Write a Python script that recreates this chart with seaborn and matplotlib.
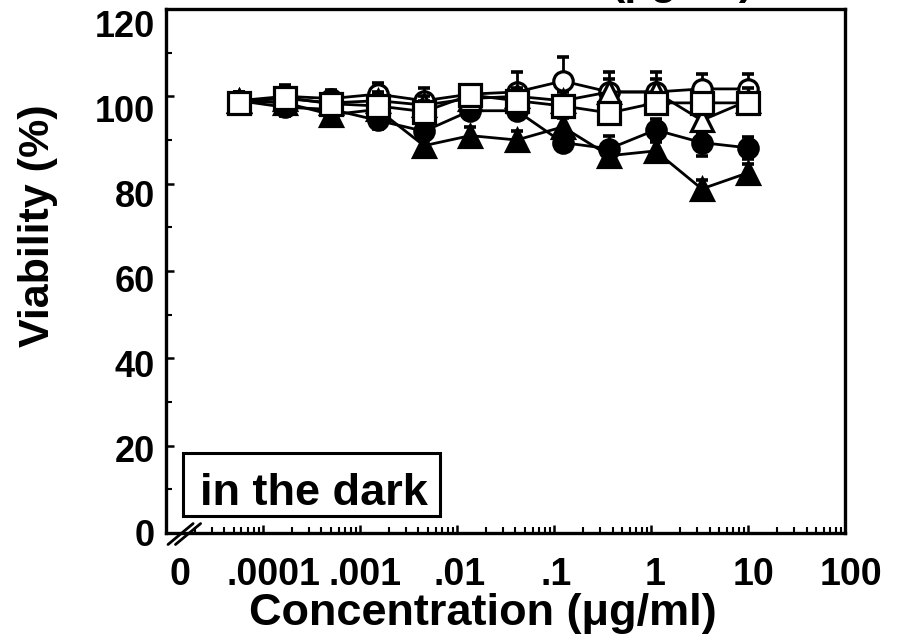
import numpy as np
import pandas as pd
import matplotlib
matplotlib.use("Agg")
import matplotlib.pyplot as plt
import matplotlib.transforms as mtransforms
from matplotlib.patches import Rectangle
import seaborn as sns
from matplotlib.ticker import LogLocator, FixedLocator, FixedFormatter, NullFormatter

# three-fold dilution series (ug/ml)
conc = [5.6e-5, 1.69e-4, 5.08e-4, 1.52e-3, 4.57e-3, 1.37e-2,
        4.12e-2, 0.123, 0.37, 1.11, 3.33, 10.0]

open_circle = [99.0, 100.0, 99.5, 100.5, 99.0, 100.5, 101.0, 103.5, 101.0, 101.0, 101.7, 101.7]
open_circle_err = [2.0, 2.0, 2.0, 2.5, 3.0, 2.0, 4.5, 5.5, 4.5, 4.5, 3.5, 3.5]

filled_circle = [99.0, 97.5, 97.0, 94.5, 92.0, 96.7, 96.7, 89.4, 88.0, 92.3, 89.4, 88.2]
filled_circle_err = [2.0, 2.0, 2.0, 2.0, 2.0, 2.0, 2.0, 2.0, 3.0, 2.5, 3.0, 2.5]

open_triangle = [99.0, 99.5, 98.5, 99.0, 98.0, 99.5, 100.0, 99.0, 101.0, 101.0, 94.5, 99.0]
open_triangle_err = [2.0, 2.0, 2.0, 2.0, 2.0, 2.0, 2.0, 2.0, 3.0, 3.0, 3.0, 3.0]

filled_triangle = [99.0, 98.5, 95.8, 97.0, 88.7, 91.0, 90.0, 93.0, 86.4, 87.5, 78.8, 82.5]
filled_triangle_err = [2.0, 2.0, 2.0, 2.0, 2.0, 2.0, 2.0, 2.0, 2.0, 2.0, 2.0, 2.0]

open_square = [98.5, 99.7, 98.3, 97.8, 96.5, 100.3, 99.0, 97.8, 96.2, 98.5, 98.5, 98.5]
open_square_err = [2.5, 3.0, 3.0, 3.0, 2.5, 2.0, 2.0, 2.0, 2.0, 2.0, 2.0, 2.0]

x_tick_pos = [1.4e-5, 1e-4, 1e-3, 1e-2, 1e-1, 1, 10, 100]
x_tick_labels = ["0", ".0001", ".001", ".01", ".1", "1", "10", "100"]
y_tick_pos = [0, 20, 40, 60, 80, 100, 120]

sns.set_theme(style="ticks")
plt.rcParams["font.family"] = ["Liberation Sans", "DejaVu Sans"]
plt.rcParams["font.weight"] = "bold"
for key in ("text.color", "axes.labelcolor", "xtick.color", "ytick.color",
            "axes.edgecolor"):
    plt.rcParams[key] = "black"

fig = plt.figure(figsize=(9.02, 6.38), dpi=100)
ax = fig.add_axes([0.184, 0.1646, 0.753, 0.8213])

series = [
    ("open circle", open_circle, open_circle_err, "o", "white", 14, 2),
    ("filled circle", filled_circle, filled_circle_err, "o", "black", 14, 3),
    ("open triangle", open_triangle, open_triangle_err, "^", "white", 15.5, 4),
    ("filled triangle", filled_triangle, filled_triangle_err, "^", "black", 15.5, 5),
    ("open square", open_square, open_square_err, "s", "white", 15.5, 6),
]

for name, vals, err, mk, face, ms, z in series:
    df = pd.DataFrame({"conc": conc, "viability": vals})
    ax.errorbar(conc, vals, yerr=err, fmt="none", ecolor="black",
                elinewidth=2.0, capsize=4, capthick=2.6, zorder=z)
    sns.lineplot(data=df, x="conc", y="viability", ax=ax, color="black",
                 linewidth=2.0, marker=mk, markersize=ms,
                 markerfacecolor=face, markeredgecolor="black",
                 markeredgewidth=2.3, zorder=z + 0.5, legend=False)

ax.set_xscale("log")
ax.set_xlim(1e-5, 100)
ax.set_ylim(0, 120)

ax.xaxis.set_major_locator(FixedLocator(x_tick_pos))
ax.xaxis.set_major_formatter(FixedFormatter(x_tick_labels))
ax.xaxis.set_minor_locator(LogLocator(base=10, subs=np.arange(2, 10), numticks=20))
ax.xaxis.set_minor_formatter(NullFormatter())
ax.set_yticks(y_tick_pos)
ax.set_yticks(np.arange(10, 120, 20), minor=True)

ax.tick_params(axis="both", which="major", direction="in", length=6, width=1.8,
               colors="black")
ax.tick_params(axis="x", which="major", pad=17, labelsize=27)
ax.tick_params(axis="y", which="major", pad=8, labelsize=26)
ax.tick_params(axis="both", which="minor", direction="in", length=4, width=1.5)
ax.xaxis.get_major_ticks()[0].tick1line.set_visible(False)

# small per-label nudges of the tick texts (pixels)
x_nudge = [0, 10, 5, 3, 2, 4, 5, 6]
for lbl, dx in zip(ax.get_xticklabels(), x_nudge):
    lbl.set_fontweight("bold")
    lbl.set_transform(lbl.get_transform() +
                      mtransforms.ScaledTranslation(dx / 100, 0, fig.dpi_scale_trans))
for lbl, v in zip(ax.get_yticklabels(), y_tick_pos):
    lbl.set_fontweight("bold")
    dy = -15 * v / 120
    lbl.set_transform(lbl.get_transform() +
                      mtransforms.ScaledTranslation(0, dy / 100, fig.dpi_scale_trans))

for sp in ax.spines.values():
    sp.set_visible(True)
    sp.set_linewidth(2.4)
    sp.set_color("black")

ax.set_xlabel("")
ax.set_ylabel("")

# axis-break mark at the zero position
for dx in (0.0, 0.011):
    ax.plot([0.003 + dx, 0.04 + dx], [-0.022, 0.018], transform=ax.transAxes,
            color="black", linewidth=2.0, clip_on=False, zorder=10)

# condition label in a box
ax.add_patch(Rectangle((0.2029, 0.1912), 0.2849, 0.0987, transform=fig.transFigure,
                       facecolor="white", edgecolor="black", linewidth=2.2,
                       zorder=8, clip_on=False))
ax.text(0.2217, 0.2085, "in the dark", transform=fig.transFigure, fontsize=32.5,
        fontweight="bold", ha="left", va="baseline", zorder=9)

fig.text(0.042, 0.647, "Viability (%)", rotation=90, fontsize=31,
         fontweight="bold", ha="center", va="center")
fig.text(0.535, 0.0204, "Concentration (\u03bcg/ml)", fontsize=32.5,
         fontweight="bold", ha="center", va="baseline")
fig.text(0.757, 1.009, "(\u03bcg/ml)", fontsize=31, fontweight="bold",
         ha="center", va="baseline")

fig.savefig("out.png", dpi=100)
